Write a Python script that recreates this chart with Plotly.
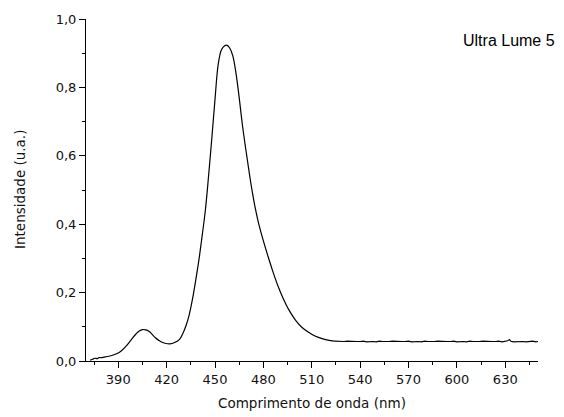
import plotly.graph_objects as go

# Wavelength (nm) and intensity (a.u.)
wl_main = [372.5, 374, 375.5, 377, 378, 380, 382, 386, 389, 392, 395, 398, 401, 403, 405, 407,
           409, 411, 413, 416, 419, 422, 425, 428, 430, 432, 434, 436, 438, 440, 442, 444,
           446, 448, 450, 452, 454, 456, 457.5, 459, 461, 463, 465, 467, 469, 471, 473,
           475, 477, 480, 483, 486, 489, 492, 496, 500, 504, 508, 512, 516, 520, 524]
int_main = [0.002, 0.005, 0.008, 0.007, 0.010, 0.010, 0.012, 0.016, 0.021, 0.030, 0.044, 0.062,
            0.079, 0.088, 0.092, 0.091, 0.087, 0.078, 0.068, 0.058, 0.052, 0.050, 0.054, 0.063,
            0.080, 0.103, 0.135, 0.180, 0.235, 0.295, 0.365, 0.440, 0.540, 0.650, 0.765, 0.868,
            0.910, 0.922, 0.923, 0.916, 0.893, 0.842, 0.770, 0.690, 0.622, 0.558, 0.498,
            0.446, 0.403, 0.351, 0.304, 0.260, 0.220, 0.186, 0.148, 0.119, 0.098, 0.084, 0.073,
            0.066, 0.061, 0.058]
wl_flat = [526, 528, 530, 532, 534, 536, 538, 540, 542, 544, 546, 548, 550, 552, 554, 556, 558,
           560, 562, 564, 566, 568, 570, 572, 574, 576, 578, 580, 582, 584, 586, 588, 590, 592,
           594, 596, 598, 600, 602, 604, 606, 608, 610, 612, 614, 616, 618, 620, 622, 624, 626,
           628, 630, 631.5, 632.5, 633.5, 635, 637, 639, 641, 643, 645, 647, 649, 650.3]
int_flat = [0.057, 0.056, 0.057, 0.058, 0.057, 0.056, 0.057, 0.057, 0.058, 0.056, 0.057, 0.057,
            0.056, 0.058, 0.057, 0.056, 0.057, 0.058, 0.057, 0.056, 0.057, 0.057, 0.058, 0.056,
            0.057, 0.057, 0.056, 0.058, 0.057, 0.056, 0.057, 0.058, 0.057, 0.056, 0.057, 0.057,
            0.058, 0.056, 0.057, 0.057, 0.056, 0.058, 0.057, 0.056, 0.057, 0.058, 0.057, 0.056,
            0.057, 0.057, 0.058, 0.056, 0.057, 0.059, 0.063, 0.058, 0.056, 0.057, 0.058, 0.057,
            0.056, 0.057, 0.058, 0.056, 0.057]

x_ticks = [390, 420, 450, 480, 510, 540, 570, 600, 630]
y_ticks = [0.0, 0.2, 0.4, 0.6, 0.8, 1.0]
y_tick_text = ["0,0", "0,2", "0,4", "0,6", "0,8", "1,0"]
label_text = "Ultra Lume 5"
x_title = "Comprimento de onda (nm)"
y_title = "Intensidade (u.a.)"

fig = go.Figure()
fig.add_trace(go.Scatter(x=wl_main, y=int_main, mode="lines",
                         line=dict(color="black", width=1.2, shape="spline"),
                         showlegend=False, hoverinfo="skip"))
fig.add_trace(go.Scatter(x=[wl_main[-1]] + wl_flat, y=[int_main[-1]] + int_flat, mode="lines",
                         line=dict(color="black", width=1.1),
                         showlegend=False, hoverinfo="skip"))

tick_font = dict(family="DejaVu Sans", size=13, color="#111111")
fig.update_layout(
    width=564, height=417,
    margin=dict(l=86, r=26, t=14, b=56),
    paper_bgcolor="white", plot_bgcolor="white",
    xaxis=dict(range=[370, 650.3], tickvals=x_ticks, ticks="outside", ticklen=6,
               tickwidth=1, tickcolor="black", showline=True, linecolor="black",
               linewidth=1, showgrid=False, zeroline=False, tickfont=tick_font,
               minor=dict(dtick=15, tick0=375, ticks="outside", ticklen=3,
                          tickcolor="black", tickwidth=1, showgrid=False)),
    yaxis=dict(range=[0, 1.0], tickvals=y_ticks, ticktext=y_tick_text, ticks="outside",
               ticklen=6, tickwidth=1, tickcolor="black", showline=True,
               linecolor="black", linewidth=1, showgrid=False, zeroline=False,
               tickfont=tick_font,
               minor=dict(dtick=0.1, tick0=0.1, ticks="outside", ticklen=3,
                          tickcolor="black", tickwidth=1, showgrid=False)),
    annotations=[
        dict(text=label_text, xref="paper", yref="paper", x=1.042, y=0.938,
             xanchor="right", yanchor="middle", showarrow=False,
             font=dict(family="Liberation Sans", size=16, color="black")),
        dict(text=x_title, xref="paper", yref="paper", x=0.5, y=-0.123,
             xanchor="center", yanchor="middle", showarrow=False,
             font=dict(family="DejaVu Sans", size=13.5, color="#111111")),
        dict(text=y_title, xref="paper", yref="paper", x=-0.146, y=0.5,
             xanchor="center", yanchor="middle", showarrow=False, textangle=-90,
             font=dict(family="DejaVu Sans", size=13.5, color="#111111")),
    ],
)

fig.write_html("out.html")
